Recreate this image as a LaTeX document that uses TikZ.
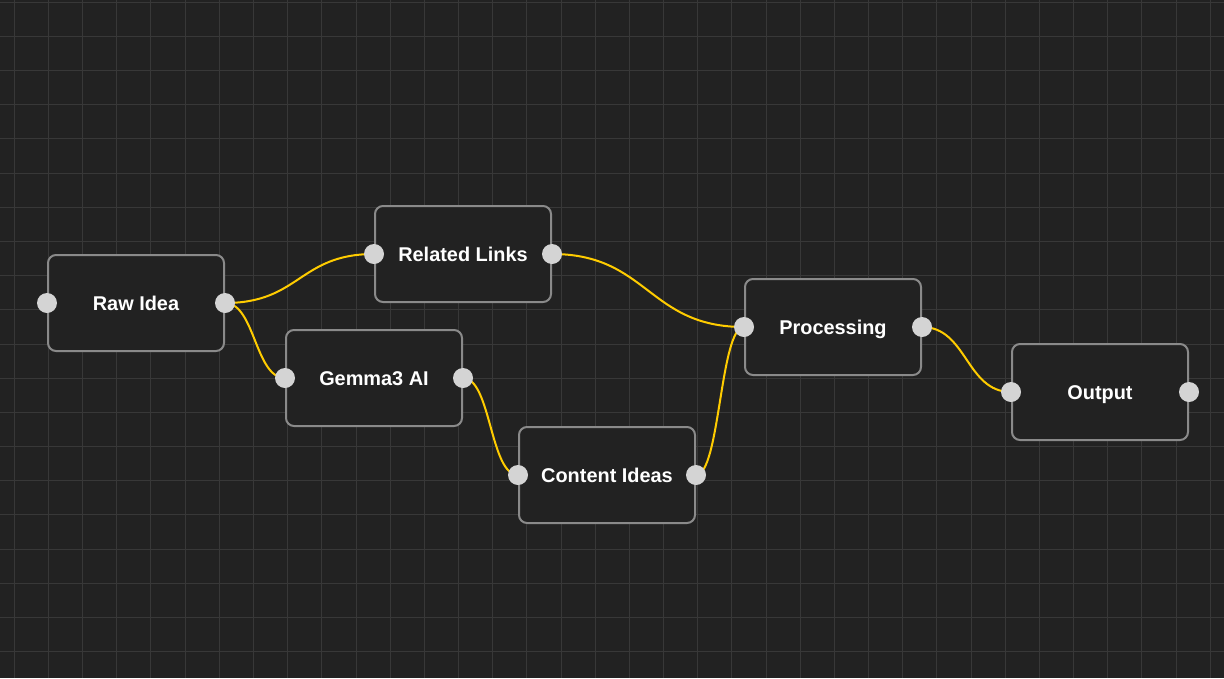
\documentclass[tikz,border=0pt]{standalone}
\usepackage{fontspec}
\setmainfont{Liberation Sans}
\definecolor{bg}{HTML}{222222}
\definecolor{gridc}{HTML}{383838}
\definecolor{boxborder}{HTML}{8A8A8A}
\definecolor{portc}{HTML}{D4D4D4}
\definecolor{wirec}{HTML}{FFCC00}
\begin{document}
\begin{tikzpicture}[x=1pt,y=-1pt,
  box/.style={draw=boxborder, line width=2pt, fill=bg, rounded corners=8pt,
    minimum width=176pt, minimum height=96pt, inner sep=0pt,
    text height=14.2pt, text depth=0pt,
    font=\fontsize{19.9}{24}\selectfont\bfseries, text=white},
  port/.style={circle, fill=portc, minimum size=20pt, inner sep=0pt},
  wire/.style={draw=wirec, line width=2pt},
  gridline/.style={draw=gridc, line width=1pt}]
\fill[bg] (0,0) rectangle (1224,678);
\useasboundingbox (0,0) rectangle (1224,678);
\foreach \i in {0,...,35} \draw[gridline] ({14.3+34.17*\i},0) -- ++(0,678);
\foreach \j in {0,...,19} \draw[gridline] (0,{2.3+34.17*\j}) -- ++(1224,0);

\node[box] (raw) at (136,303) {Raw Idea};
\node[box] (rel) at (463,254) {Related Links};
\node[box] (gem) at (374,378) {Gemma3 AI};
\node[box] (con) at (607,475) {Content Ideas};
\node[box] (pro) at (833,327) {Processing};
\node[box] (out) at (1100,392) {Output};

\coordinate (rawin) at (raw.west); \coordinate (rawout) at (raw.east);
\coordinate (relin) at (rel.west); \coordinate (relout) at (rel.east);
\coordinate (gemin) at (gem.west); \coordinate (gemout) at (gem.east);
\coordinate (conin) at (con.west); \coordinate (conout) at (con.east);
\coordinate (proin) at (pro.west); \coordinate (proout) at (pro.east);
\coordinate (outin) at (out.west); \coordinate (outout) at (out.east);

\draw[wire] (rawout) .. controls +(75,0) and +(-75,0) .. (relin);
\draw[wire] (rawout) .. controls +(30,0) and +(-30,0) .. (gemin);
\draw[wire] (relout) .. controls +(96,0) and +(-96,0) .. (proin);
\draw[wire] (gemout) .. controls +(28,0) and +(-28,0) .. (conin);
\draw[wire] (conout) .. controls +(24,0) and +(-24,0) .. (proin);
\draw[wire] (proout) .. controls +(45,0) and +(-45,0) .. (outin);

\foreach \p in {rawin,rawout,relin,relout,gemin,gemout,conin,conout,proin,proout,outin,outout}
  \node[port] at (\p) {};
\end{tikzpicture}
\end{document}
